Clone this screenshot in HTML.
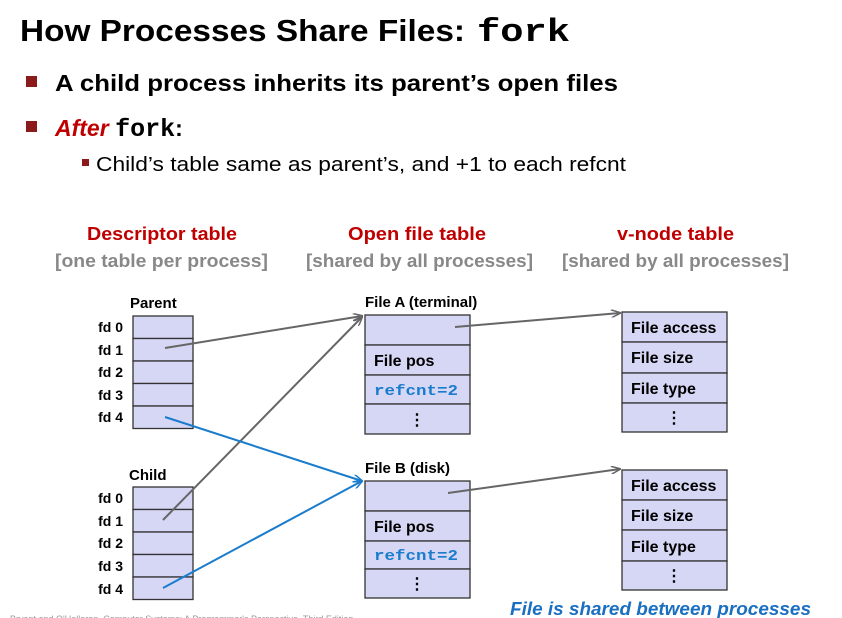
<!DOCTYPE html>
<html><head><meta charset="utf-8"><style>
body{margin:0;background:#fff;}
svg{display:block;font-family:"Liberation Sans",sans-serif;}
</style></head><body>
<svg width="842" height="618" viewBox="0 0 842 618" xmlns="http://www.w3.org/2000/svg">
<defs>
<marker id="ag" markerWidth="10" markerHeight="8" refX="9" refY="4" orient="auto" markerUnits="userSpaceOnUse"><path d="M0,0 L10,4 L0,8" fill="none" stroke="#666" stroke-width="1.5"/></marker>
<marker id="ab" markerWidth="10" markerHeight="8" refX="9" refY="4" orient="auto" markerUnits="userSpaceOnUse"><path d="M0,0 L10,4 L0,8" fill="none" stroke="#1a7ccc" stroke-width="1.5"/></marker>
</defs>
<text x="20" y="41" font-size="31" font-weight="bold" fill="#000" textLength="445" lengthAdjust="spacingAndGlyphs">How Processes Share Files:</text>
<text x="477" y="41" font-size="32" font-weight="bold" font-family="Liberation Mono" textLength="93" lengthAdjust="spacingAndGlyphs">fork</text>
<rect x="26" y="76" width="11" height="11" fill="#8b1a1a"/>
<text x="55" y="91" font-size="23" font-weight="bold" textLength="563" lengthAdjust="spacingAndGlyphs">A child process inherits its parent’s open files</text>
<rect x="26" y="121" width="11" height="11" fill="#8b1a1a"/>
<text x="55" y="136" font-size="23" font-weight="bold"><tspan fill="#c00000" font-style="italic">After </tspan><tspan font-family="Liberation Mono" font-size="25">fork</tspan>:</text>
<rect x="82" y="159" width="7" height="7" fill="#8b1a1a"/>
<text x="96" y="171" font-size="20" textLength="530" lengthAdjust="spacingAndGlyphs">Child’s table same as parent’s, and +1 to each refcnt</text>

<g font-size="18" font-weight="bold" fill="#c00000">
<text x="87" y="240" textLength="150" lengthAdjust="spacingAndGlyphs">Descriptor table</text>
<text x="348" y="240" textLength="138" lengthAdjust="spacingAndGlyphs">Open file table</text>
<text x="617" y="240" textLength="117" lengthAdjust="spacingAndGlyphs">v-node table</text>
</g>
<g font-size="18" font-weight="bold" fill="#888">
<text x="55" y="267" textLength="213" lengthAdjust="spacingAndGlyphs">[one table per process]</text>
<text x="306" y="267" textLength="227" lengthAdjust="spacingAndGlyphs">[shared by all processes]</text>
<text x="562" y="267" textLength="227" lengthAdjust="spacingAndGlyphs">[shared by all processes]</text>
</g>

<g fill="#d6d6f5" stroke="#333" stroke-width="1.3">
<rect x="133" y="316" width="60" height="22.5"/><rect x="133" y="338.5" width="60" height="22.5"/><rect x="133" y="361" width="60" height="22.5"/><rect x="133" y="383.5" width="60" height="22.5"/><rect x="133" y="406" width="60" height="22.5"/>
<rect x="133" y="487" width="60" height="22.5"/><rect x="133" y="509.5" width="60" height="22.5"/><rect x="133" y="532" width="60" height="22.5"/><rect x="133" y="554.5" width="60" height="22.5"/><rect x="133" y="577" width="60" height="22.5"/>
<rect x="365" y="315" width="105" height="30"/><rect x="365" y="345" width="105" height="30"/><rect x="365" y="375" width="105" height="29"/><rect x="365" y="404" width="105" height="30"/>
<rect x="365" y="481" width="105" height="30"/><rect x="365" y="511" width="105" height="30"/><rect x="365" y="541" width="105" height="28"/><rect x="365" y="569" width="105" height="29"/>
<rect x="622" y="312" width="105" height="30"/><rect x="622" y="342" width="105" height="31"/><rect x="622" y="373" width="105" height="30"/><rect x="622" y="403" width="105" height="29"/>
<rect x="622" y="470" width="105" height="30"/><rect x="622" y="500" width="105" height="30"/><rect x="622" y="530" width="105" height="31"/><rect x="622" y="561" width="105" height="29"/>
</g>

<g font-size="15" font-weight="bold" fill="#000">
<text x="130" y="308">Parent</text>
<text x="129" y="480">Child</text>
<text x="365" y="307">File A (terminal)</text>
<text x="365" y="473">File B (disk)</text>
<g text-anchor="end" font-size="14">
<text x="123" y="332">fd 0</text><text x="123" y="355">fd 1</text><text x="123" y="377">fd 2</text><text x="123" y="400">fd 3</text><text x="123" y="422">fd 4</text>
<text x="123" y="503">fd 0</text><text x="123" y="526">fd 1</text><text x="123" y="548">fd 2</text><text x="123" y="571">fd 3</text><text x="123" y="594">fd 4</text>
</g>
<g font-size="16">
<text x="374" y="366">File pos</text><text x="374" y="532">File pos</text>
<text x="631" y="333">File access</text><text x="631" y="363">File size</text><text x="631" y="394">File type</text>
<text x="631" y="491">File access</text><text x="631" y="521">File size</text><text x="631" y="552">File type</text>
</g>
<g text-anchor="middle" font-size="16">
<text x="417" y="425">⋮</text><text x="417" y="589">⋮</text><text x="674" y="423">⋮</text><text x="674" y="581">⋮</text>
</g>
</g>
<g font-family="Liberation Mono" font-size="15" font-weight="bold" fill="#1a7ccc">
<text x="374" y="395" textLength="84" lengthAdjust="spacingAndGlyphs">refcnt=2</text><text x="374" y="560" textLength="84" lengthAdjust="spacingAndGlyphs">refcnt=2</text>
</g>

<g stroke="#666" stroke-width="2" fill="none">
<line x1="165" y1="348" x2="362" y2="316" marker-end="url(#ag)"/>
<line x1="163" y1="520" x2="362" y2="317" marker-end="url(#ag)"/>
<line x1="455" y1="327" x2="620" y2="313" marker-end="url(#ag)"/>
<line x1="448" y1="493" x2="620" y2="469" marker-end="url(#ag)"/>
</g>
<g stroke="#1a7ccc" stroke-width="2" fill="none">
<line x1="165" y1="417" x2="362" y2="481" marker-end="url(#ab)"/>
<line x1="163" y1="588" x2="362" y2="481" marker-end="url(#ab)"/>
</g>
<text x="510" y="615" font-size="18" font-weight="bold" font-style="italic" fill="#1a6fc0" textLength="301" lengthAdjust="spacingAndGlyphs">File is shared between processes</text>
<text x="10" y="622" font-size="9" fill="#999">Bryant and O'Hallaron, Computer Systems: A Programmer's Perspective, Third Edition</text>
</svg>
</body></html>
